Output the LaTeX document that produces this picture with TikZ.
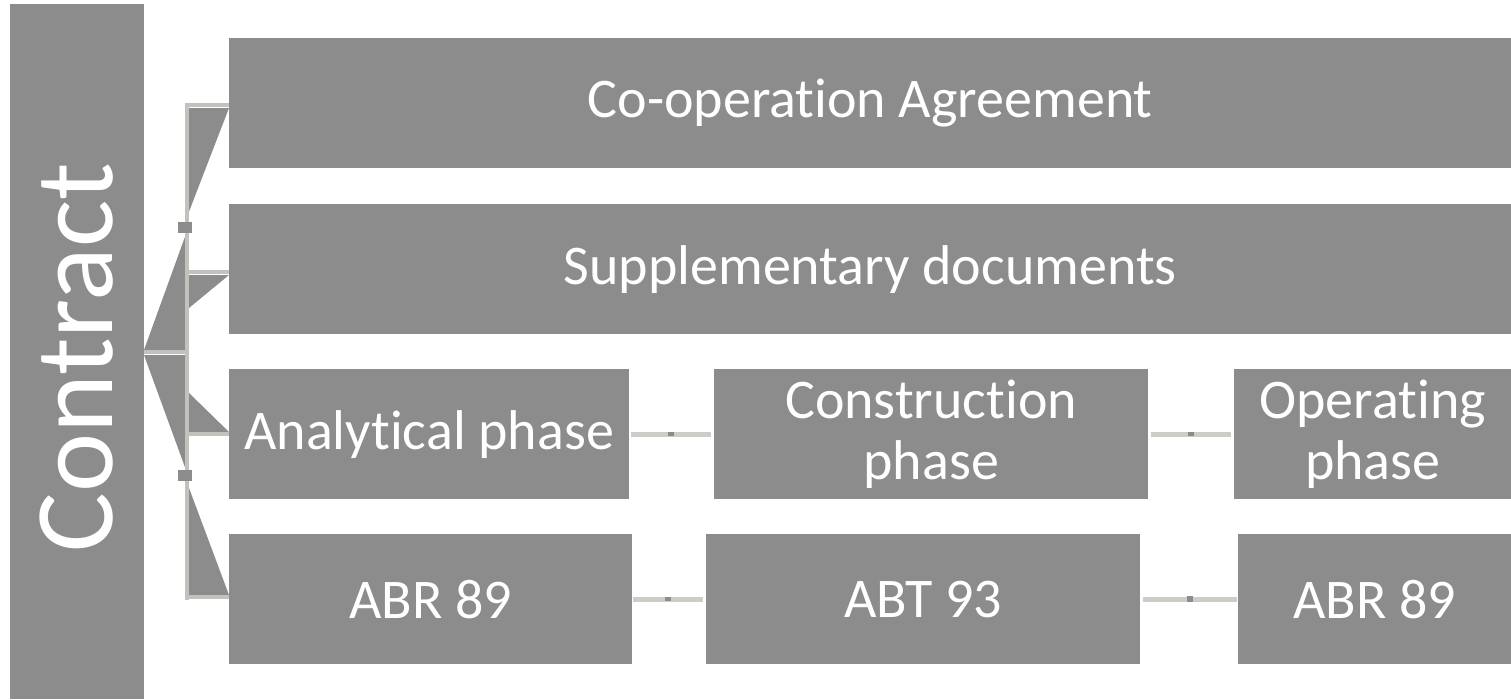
\documentclass[tikz,border=0pt]{standalone}
\usepackage{fontspec}
\setmainfont[RawFeature={-liga;-clig;-calt;-dlig}]{Carlito}
\definecolor{boxgray}{HTML}{8C8C8C}
\definecolor{barlight}{HTML}{CDCDC8}
\definecolor{bracketlight}{HTML}{C2C2BC}
\tikzset{
  box/.style={fill=boxgray, draw=none, anchor=north west, inner sep=0pt,
    text=white, align=center, font=\fontsize{56}{61}\selectfont},
  hbar/.style={draw=barlight, line width=5pt},
  brk/.style={draw=bracketlight, line width=4.5pt},
  tri/.style={fill=boxgray, draw=none},
  knot/.style={fill=boxgray, draw=none, inner sep=0pt, minimum width=6pt, minimum height=4pt},
}
\begin{document}
\begin{tikzpicture}[x=1pt,y=-1pt]
\useasboundingbox (0,0) rectangle (1511,699);
% main boxes
\node[box, minimum width=134pt, minimum height=695pt] (contract) at (10,4) {};
\node[rotate=90, text=white, font=\fontsize{112}{114}\selectfont] (contractlabel) at ([xshift=-1pt,yshift=-6pt]contract.center) {Contract};
\node[box, minimum width=1282pt, minimum height=130pt] (coop) at (229,38) {\raisebox{-5pt}{Co-operation Agreement}};
\node[box, minimum width=1282pt, minimum height=130pt] (supp) at (229,204) {\raisebox{-5pt}{Supplementary documents}};
\node[box, minimum width=400pt, minimum height=130pt] (anal) at (229,369) {\raisebox{-3pt}{Analytical phase}};
\node[box, minimum width=434pt, minimum height=130pt] (cons) at (714,369) {\raisebox{-3pt}{Construction}\\\raisebox{-3pt}{phase}};
\node[box, minimum width=277pt, minimum height=130pt] (oper) at (1234,369) {\raisebox{-3pt}{Operating}\\\raisebox{-3pt}{phase}};
\node[box, minimum width=403pt, minimum height=130pt] (abr1) at (229,534) {\raisebox{-3pt}{ABR 89}};
\node[box, minimum width=434pt, minimum height=130pt] (abt) at (706,534) {\raisebox{-3pt}{ABT 93}};
\node[box, minimum width=273pt, minimum height=130pt] (abr2) at (1238,534) {\raisebox{-3pt}{ABR 89}};
% bracket coordinates
\coordinate (bt) at (187,103);
\coordinate (bb) at (187,600);
\coordinate (bm) at (187,352);
% triangles
\fill[tri] (189,108) -- (229,108) -- (185,222) -- cycle;
\fill[tri] (144,350) -- (186,350) -- (186,234) -- cycle;
\fill[tri] (189,275) -- (229,275) -- (189,308) -- cycle;
\fill[tri] (144,355) -- (186,355) -- (186,470) -- cycle;
\fill[tri] (189,393) -- (189,432) -- (229,432) -- cycle;
\fill[tri] (189,488) -- (189,595) -- (229,595) -- cycle;
% bracket
\draw[brk] (bt) -- (bb);
\draw[brk] (185,105) -- (coop.west |- 0,105);
\draw[brk] (185,272) -- (supp.west |- 0,272);
\draw[brk] (185,434) -- (anal.west |- 0,434);
\draw[brk] (185,597) -- (abr1.west |- 0,597);
\draw[brk] (contract.east |- bm) -- (189,352);
\node[knot, minimum width=14pt, minimum height=11pt] (k1) at (185,227.5) {};
\node[knot, minimum width=14pt, minimum height=11pt] (k2) at (185,475.5) {};
% horizontal connectors
\draw[hbar] ([xshift=2pt]anal.east) -- ([xshift=-3pt]cons.west) node[midway, knot] (k3) {};
\draw[hbar] ([xshift=3pt]cons.east) -- ([xshift=-3pt]oper.west) node[midway, knot] (k4) {};
\draw[hbar] ([xshift=1pt]abr1.east) -- ([xshift=-3pt]abt.west) node[midway, knot] (k5) {};
\draw[hbar] ([xshift=3pt]abt.east) -- ([xshift=-1pt]abr2.west) node[midway, knot, minimum height=6pt] (k6) {};
\end{tikzpicture}
\end{document}
